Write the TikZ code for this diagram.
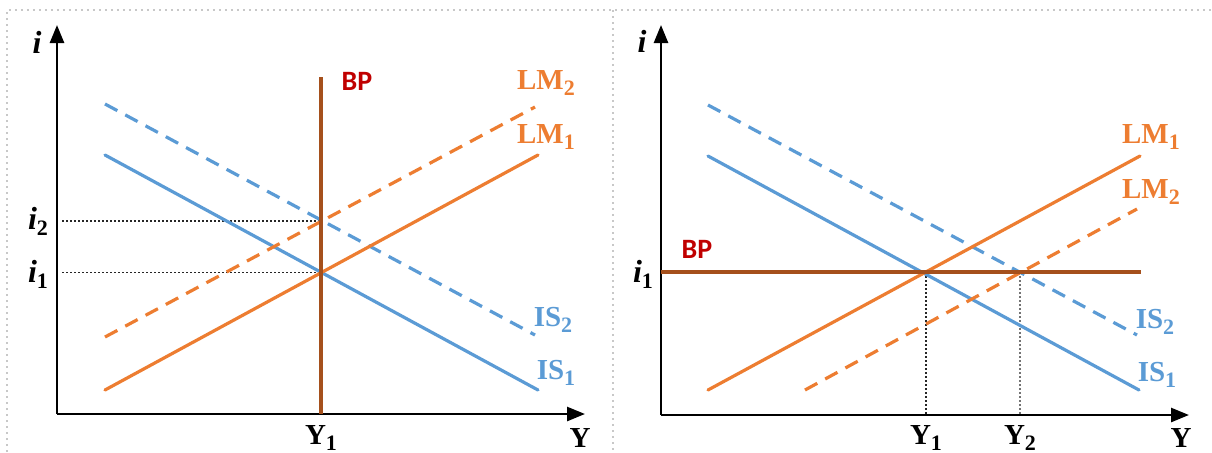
\documentclass[tikz,border=0pt]{standalone}
\usepackage{fontspec}
\setmainfont{Liberation Serif}
\newfontfamily\bpfont{Carlito}
\usetikzlibrary{arrows.meta}
\definecolor{isblue}{HTML}{5B9BD5}
\definecolor{lmorange}{HTML}{ED7D31}
\definecolor{bpbrown}{HTML}{A5501C}
\definecolor{bpred}{HTML}{C00000}
\definecolor{framegray}{HTML}{C8C8C8}
\newcommand{\lsub}[1]{\raisebox{-0.4ex}{\fontsize{11}{11}\selectfont #1}}
\tikzset{
  axisline/.style={line width=1.3pt, -{Triangle[length=9pt,width=7pt]}},
  isline/.style={isblue, line width=1.6pt},
  lmline/.style={lmorange, line width=1.6pt},
  bpline/.style={bpbrown, line width=1.6pt},
  dashedline/.style={dash pattern=on 7pt off 4.5pt},
  guide/.style={black!85, line width=0.9pt, dash pattern=on 0.8pt off 1.2pt},
  framebox/.style={framegray, line width=1pt, dash pattern=on 1.2pt off 1.8pt},
  lab/.style={font=\fontsize{14.5}{15}\selectfont\bfseries, inner sep=0pt},
  ilab/.style={font=\fontsize{16}{16}\selectfont\bfseries, inner sep=0pt},
  bplab/.style={font=\fontsize{14}{15}\selectfont\bpfont\bfseries, text=bpred, inner sep=0pt},
}
\begin{document}
\begin{tikzpicture}[x=0.5pt,y=-0.5pt]
\useasboundingbox (0,0) rectangle (1212,452);
% frame
\coordinate (f1) at (7,452);
\coordinate (f2) at (7,10);
\coordinate (f3) at (1212,10);
\coordinate (fm1) at (613,10);
\coordinate (fm2) at (613,452);
\draw[framebox] (f1) -- (f2) -- (f3);
\draw[framebox] (fm1) -- (fm2);

% ===== Left panel =====
\coordinate (Lo) at (57,414);
\coordinate (Ly) at (57,25);
\coordinate (Lx) at (585,414);
\draw[axisline] (Lo) -- (Ly);
\draw[axisline] (Lo) -- (Lx);
\node[ilab] (Li) at (37,42) {\textit{i}};
\node[lab] (LY) at (580,438) {Y};

% guides
\coordinate (Le1) at (321,272.5);
\coordinate (Le2) at (321,221);
\coordinate (Lg1) at (62,272.5);
\coordinate (Lg2) at (62,221);
\draw[guide] (Lg1) -- (Le1);
\draw[guide] (Lg2) -- (Le2);
\node[ilab] (Li2) at (38,221) {\textit{i}\lsub{2}};
\node[ilab] (Li1) at (38,274) {\textit{i}\lsub{1}};

% IS curves
\coordinate (Lis1a) at (105,155);
\coordinate (Lis1b) at (538,390);
\coordinate (Lis2a) at (105,104);
\coordinate (Lis2b) at (535,335);
\draw[isline, line cap=round] (Lis1a) -- (Lis1b);
\draw[isline, dashedline] (Lis2a) -- (Lis2b);
% LM curves
\coordinate (Llm1a) at (105,390);
\coordinate (Llm1b) at (538,155);
\coordinate (Llm2a) at (105,337);
\coordinate (Llm2b) at (535,107);
\draw[lmline, line cap=round] (Llm1a) -- (Llm1b);
\draw[lmline, dashedline] (Llm2a) -- (Llm2b);
% BP
\coordinate (Lbpa) at (321,77);
\coordinate (Lbpb) at (321,414);
\draw[bpline] (Lbpa) -- (Lbpb);
\node[bplab] (Lbp) at (357,81) {BP};
\node[lab] (LY1) at (321,438) {Y\lsub{1}};

\node[lab, text=lmorange] (LLM2) at (546,83) {LM\lsub{2}};
\node[lab, text=lmorange] (LLM1) at (546,137) {LM\lsub{1}};
\node[lab, text=isblue] (LIS2) at (553,320) {IS\lsub{2}};
\node[lab, text=isblue] (LIS1) at (556,373) {IS\lsub{1}};

% ===== Right panel =====
\coordinate (Ro) at (661,415);
\coordinate (Ry) at (661,25);
\coordinate (Rx) at (1189,415);
\draw[axisline] (Ro) -- (Ry);
\draw[axisline] (Ro) -- (Rx);
\node[ilab] (Ri) at (642,41) {\textit{i}};
\node[lab] (RY) at (1181,438) {Y};
\node[ilab] (Ri1) at (643,274) {\textit{i}\lsub{1}};

% guides
\coordinate (Re1) at (926,272);
\coordinate (Re2) at (1020,272);
\coordinate (Rg1) at (926,415);
\coordinate (Rg2) at (1020,415);
\draw[guide] (Re1) -- (Rg1);
\draw[guide, black!55] (Re2) -- (Rg2);

% IS curves
\coordinate (Ris1a) at (708,156);
\coordinate (Ris1b) at (1139,390);
\coordinate (Ris2a) at (708,105);
\coordinate (Ris2b) at (1137,335);
\draw[isline, line cap=round] (Ris1a) -- (Ris1b);
\draw[isline, dashedline] (Ris2a) -- (Ris2b);
% LM curves
\coordinate (Rlm1a) at (708,390);
\coordinate (Rlm1b) at (1140,156);
\coordinate (Rlm2a) at (805,390);
\coordinate (Rlm2b) at (1137,209);
\draw[lmline, line cap=round] (Rlm1a) -- (Rlm1b);
\draw[lmline, dashedline] (Rlm2a) -- (Rlm2b);
% BP
\coordinate (Rbpa) at (661,272);
\coordinate (Rbpb) at (1141,272);
\draw[bpline] (Rbpa) -- (Rbpb);
\node[bplab] (Rbp) at (697,249) {BP};

\node[lab] (RY1) at (926,438) {Y\lsub{1}};
\node[lab] (RY2) at (1020,438) {Y\lsub{2}};
\node[lab, text=lmorange] (RLM1) at (1151,137) {LM\lsub{1}};
\node[lab, text=lmorange] (RLM2) at (1151,192) {LM\lsub{2}};
\node[lab, text=isblue] (RIS2) at (1155,322) {IS\lsub{2}};
\node[lab, text=isblue] (RIS1) at (1157,375) {IS\lsub{1}};
\end{tikzpicture}
\end{document}
